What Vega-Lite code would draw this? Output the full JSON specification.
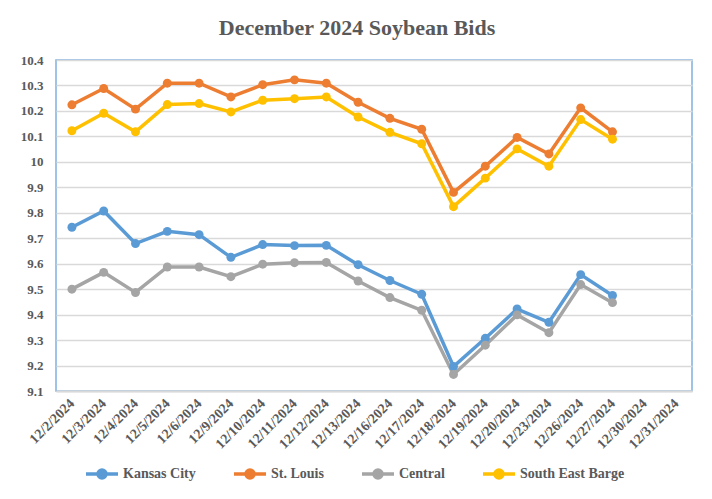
{
  "$schema": "https://vega.github.io/schema/vega-lite/v6.json",
  "autosize": "none",
  "width": 636,
  "height": 331,
  "padding": {"left": 56, "top": 60, "right": 20, "bottom": 108},
  "background": "white",
  "title": {
    "text": "December 2024 Soybean Bids",
    "font": "Liberation Serif",
    "fontSize": 22,
    "fontWeight": "bold",
    "color": "#595959",
    "anchor": "middle",
    "dx": -17,
    "offset": 14
  },
  "data": {
    "values": [
      {"date": "12/2/2024", "series": "Kansas City", "value": 9.743},
      {"date": "12/3/2024", "series": "Kansas City", "value": 9.807},
      {"date": "12/4/2024", "series": "Kansas City", "value": 9.679},
      {"date": "12/5/2024", "series": "Kansas City", "value": 9.727},
      {"date": "12/6/2024", "series": "Kansas City", "value": 9.714},
      {"date": "12/9/2024", "series": "Kansas City", "value": 9.625},
      {"date": "12/10/2024", "series": "Kansas City", "value": 9.675},
      {"date": "12/11/2024", "series": "Kansas City", "value": 9.671},
      {"date": "12/12/2024", "series": "Kansas City", "value": 9.672},
      {"date": "12/13/2024", "series": "Kansas City", "value": 9.596},
      {"date": "12/16/2024", "series": "Kansas City", "value": 9.534},
      {"date": "12/17/2024", "series": "Kansas City", "value": 9.48},
      {"date": "12/18/2024", "series": "Kansas City", "value": 9.196},
      {"date": "12/19/2024", "series": "Kansas City", "value": 9.307},
      {"date": "12/20/2024", "series": "Kansas City", "value": 9.422},
      {"date": "12/23/2024", "series": "Kansas City", "value": 9.37},
      {"date": "12/26/2024", "series": "Kansas City", "value": 9.557},
      {"date": "12/27/2024", "series": "Kansas City", "value": 9.475},
      {"date": "12/2/2024", "series": "St. Louis", "value": 10.224},
      {"date": "12/3/2024", "series": "St. Louis", "value": 10.288},
      {"date": "12/4/2024", "series": "St. Louis", "value": 10.207},
      {"date": "12/5/2024", "series": "St. Louis", "value": 10.309},
      {"date": "12/6/2024", "series": "St. Louis", "value": 10.309},
      {"date": "12/9/2024", "series": "St. Louis", "value": 10.255},
      {"date": "12/10/2024", "series": "St. Louis", "value": 10.303},
      {"date": "12/11/2024", "series": "St. Louis", "value": 10.322},
      {"date": "12/12/2024", "series": "St. Louis", "value": 10.309},
      {"date": "12/13/2024", "series": "St. Louis", "value": 10.234},
      {"date": "12/16/2024", "series": "St. Louis", "value": 10.171},
      {"date": "12/17/2024", "series": "St. Louis", "value": 10.128},
      {"date": "12/18/2024", "series": "St. Louis", "value": 9.88},
      {"date": "12/19/2024", "series": "St. Louis", "value": 9.983},
      {"date": "12/20/2024", "series": "St. Louis", "value": 10.096},
      {"date": "12/23/2024", "series": "St. Louis", "value": 10.031},
      {"date": "12/26/2024", "series": "St. Louis", "value": 10.212},
      {"date": "12/27/2024", "series": "St. Louis", "value": 10.118},
      {"date": "12/2/2024", "series": "Central", "value": 9.5},
      {"date": "12/3/2024", "series": "Central", "value": 9.566},
      {"date": "12/4/2024", "series": "Central", "value": 9.487},
      {"date": "12/5/2024", "series": "Central", "value": 9.587},
      {"date": "12/6/2024", "series": "Central", "value": 9.587},
      {"date": "12/9/2024", "series": "Central", "value": 9.549},
      {"date": "12/10/2024", "series": "Central", "value": 9.598},
      {"date": "12/11/2024", "series": "Central", "value": 9.604},
      {"date": "12/12/2024", "series": "Central", "value": 9.605},
      {"date": "12/13/2024", "series": "Central", "value": 9.532},
      {"date": "12/16/2024", "series": "Central", "value": 9.467},
      {"date": "12/17/2024", "series": "Central", "value": 9.417},
      {"date": "12/18/2024", "series": "Central", "value": 9.165},
      {"date": "12/19/2024", "series": "Central", "value": 9.28},
      {"date": "12/20/2024", "series": "Central", "value": 9.399},
      {"date": "12/23/2024", "series": "Central", "value": 9.329},
      {"date": "12/26/2024", "series": "Central", "value": 9.518},
      {"date": "12/27/2024", "series": "Central", "value": 9.447},
      {"date": "12/2/2024", "series": "South East Barge", "value": 10.122},
      {"date": "12/3/2024", "series": "South East Barge", "value": 10.191},
      {"date": "12/4/2024", "series": "South East Barge", "value": 10.118},
      {"date": "12/5/2024", "series": "South East Barge", "value": 10.225},
      {"date": "12/6/2024", "series": "South East Barge", "value": 10.229},
      {"date": "12/9/2024", "series": "South East Barge", "value": 10.196},
      {"date": "12/10/2024", "series": "South East Barge", "value": 10.242},
      {"date": "12/11/2024", "series": "South East Barge", "value": 10.248},
      {"date": "12/12/2024", "series": "South East Barge", "value": 10.255},
      {"date": "12/13/2024", "series": "South East Barge", "value": 10.176},
      {"date": "12/16/2024", "series": "South East Barge", "value": 10.116},
      {"date": "12/17/2024", "series": "South East Barge", "value": 10.071},
      {"date": "12/18/2024", "series": "South East Barge", "value": 9.824},
      {"date": "12/19/2024", "series": "South East Barge", "value": 9.936},
      {"date": "12/20/2024", "series": "South East Barge", "value": 10.051},
      {"date": "12/23/2024", "series": "South East Barge", "value": 9.983},
      {"date": "12/26/2024", "series": "South East Barge", "value": 10.166},
      {"date": "12/27/2024", "series": "South East Barge", "value": 10.089}
    ]
  },
  "encoding": {
    "x": {
      "field": "date",
      "type": "ordinal",
      "sort": null,
      "scale": {
        "type": "point",
        "padding": 0.5,
        "domain": ["12/2/2024", "12/3/2024", "12/4/2024", "12/5/2024", "12/6/2024", "12/9/2024", "12/10/2024", "12/11/2024", "12/12/2024", "12/13/2024", "12/16/2024", "12/17/2024", "12/18/2024", "12/19/2024", "12/20/2024", "12/23/2024", "12/26/2024", "12/27/2024", "12/30/2024", "12/31/2024"]
      },
      "axis": {
        "title": null,
        "labelAngle": -45,
        "labelAlign": "right",
        "labelBaseline": "middle",
        "labelFontSize": 14,
        "labelPadding": 10,
        "ticks": false,
        "grid": false,
        "domain": true,
        "domainColor": "#d9d9d9",
        "domainWidth": 2,
        "labelOverlap": false
      }
    },
    "y": {
      "field": "value",
      "type": "quantitative",
      "scale": {"domain": [9.1, 10.4], "zero": false, "nice": false},
      "axis": {
        "title": null,
        "values": [9.1, 9.2, 9.3, 9.4, 9.5, 9.6, 9.7, 9.8, 9.9, 10, 10.1, 10.2, 10.3, 10.4],
        "format": "~g",
        "labelFontSize": 13,
        "labelPadding": 13,
        "ticks": false,
        "domain": false,
        "grid": true,
        "gridColor": "#d9d9d9",
        "gridWidth": 1.5
      }
    },
    "color": {
      "field": "series",
      "type": "nominal",
      "sort": ["Kansas City", "St. Louis", "Central", "South East Barge"],
      "scale": {
        "domain": ["Kansas City", "St. Louis", "Central", "South East Barge"],
        "range": ["#5B9BD5", "#ED7D31", "#A5A5A5", "#FFC000"]
      },
      "legend": {
        "title": null,
        "orient": "none",
        "legendX": 28,
        "legendY": 396,
        "direction": "horizontal",
        "labelFontSize": 14,
        "labelOffset": 3,
        "columnPadding": 31,
        "symbolType": "M-1,0L1,0M-0.25,0A0.25,0.25,0,1,1,0.25,0A0.25,0.25,0,1,1,-0.25,0Z",
        "symbolSize": 1024,
        "encode": {
          "symbols": {
            "update": {
              "stroke": {"scale": "color", "field": "value"},
              "fill": {"scale": "color", "field": "value"},
              "strokeWidth": {"value": 3.5}
            }
          }
        }
      }
    }
  },
  "layer": [
    {"mark": {"type": "line", "strokeWidth": 3.5}},
    {"mark": {"type": "point", "filled": true, "size": 80, "opacity": 1}}
  ],
  "config": {
    "view": {"stroke": "#7FB0DE", "strokeWidth": 1.5},
    "font": "Liberation Serif",
    "axis": {"labelFont": "Liberation Serif", "labelFontWeight": "bold", "labelColor": "#595959"},
    "legend": {"labelFont": "Liberation Serif", "labelFontWeight": "bold", "labelColor": "#595959"}
  }
}
